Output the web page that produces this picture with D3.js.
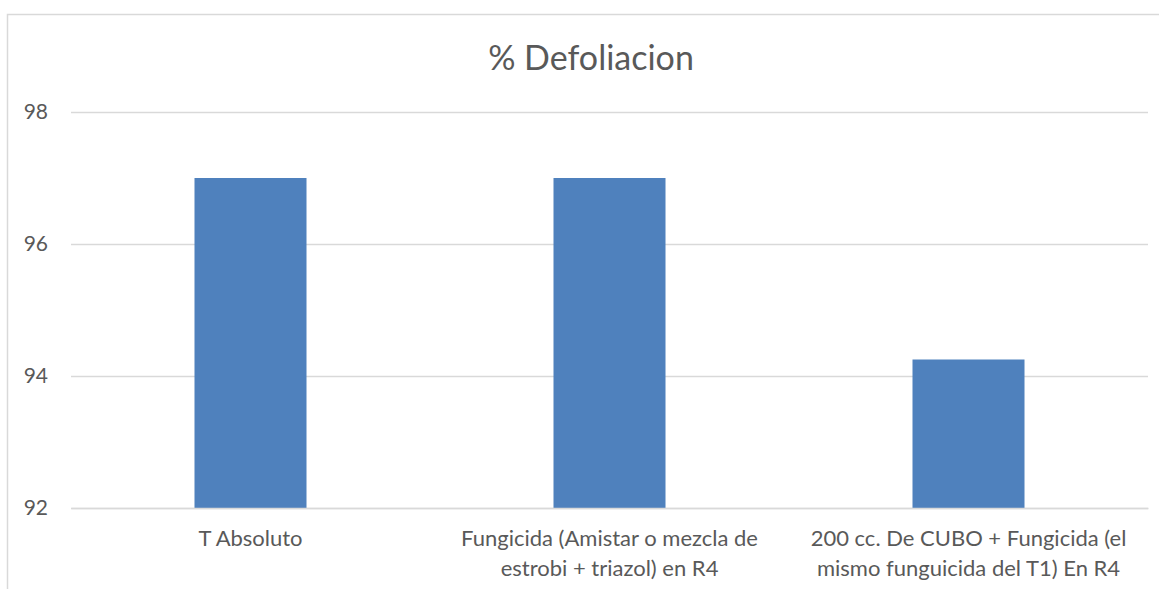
<!DOCTYPE html>
<html><head><meta charset="utf-8">
<script src="https://cdn.jsdelivr.net/npm/d3@7"></script>
<style>body{margin:0;background:#fff}svg{display:block}</style>
</head><body>
<script>
const categories = [
  ["T Absoluto"],
  ["Fungicida (Amistar o mezcla de", "estrobi + triazol) en R4"],
  ["200 cc. De CUBO + Fungicida (el", "mismo funguicida del T1) En R4"]
];
const values = [97, 97, 94.25];
const yTicks = [92, 94, 96, 98];
const title = "% Defoliacion";

(function() {
const W = 1159, H = 589;
const font = "Lato, 'Open Sans', sans-serif";
const svg = d3.select("body").append("svg").attr("width", W).attr("height", H);
svg.append("rect").attr("x", 7.5).attr("y", 14.5).attr("width", W + 10).attr("height", H + 10)
  .attr("fill", "#fff").attr("stroke", "#d9d9d9").attr("stroke-width", 1.5);

const mL = 71, mR = 1148, mT = 112, mB = 508;
const x = d3.scaleBand().domain(d3.range(categories.length)).range([mL, mR]).paddingInner(0.688).paddingOuter(0.344);
const y = d3.scaleLinear().domain([92, 98]).range([mB, mT]);

const yAxis = d3.axisLeft(y).tickValues(yTicks).tickFormat(d3.format("d")).tickSize(-(mR - mL));
const gy = svg.append("g").attr("transform", `translate(${mL},0)`).call(yAxis);
gy.select(".domain").remove();
gy.selectAll("line").attr("stroke", "#d9d9d9").attr("stroke-width", 1.5);
gy.selectAll("text").attr("fill", "#595959").style("font-family", font).style("font-size", "21px").attr("text-anchor","end").attr("x", -23);

svg.append("g").selectAll("rect").data(values).join("rect")
  .attr("x", (d, i) => x(i)).attr("width", x.bandwidth())
  .attr("y", d => y(d)).attr("height", d => y(92) - y(d))
  .attr("fill", "#4f81bd");

const xAxis = d3.axisBottom(x).tickSize(0).tickFormat(() => "");
const gx = svg.append("g").attr("transform", `translate(0,${mB})`).call(xAxis);
gx.select(".domain").attr("stroke", "#d9d9d9").attr("stroke-width", 1.5);
gx.selectAll(".tick").each(function(d) {
  const t = d3.select(this).append("text").attr("fill", "#595959").attr("text-anchor", "middle")
    .style("font-family", font).style("font-size", "22px");
  categories[d].forEach((line, k) => {
    t.append("tspan").attr("x", 0).attr("y", 38 + k * 30).text(line);
  });
});

svg.append("text").attr("x", 591).attr("y", 70).attr("text-anchor", "middle")
  .attr("fill", "#595959").style("font-family", font).style("font-size", "34px").text(title);
})();
</script>
</body></html>
